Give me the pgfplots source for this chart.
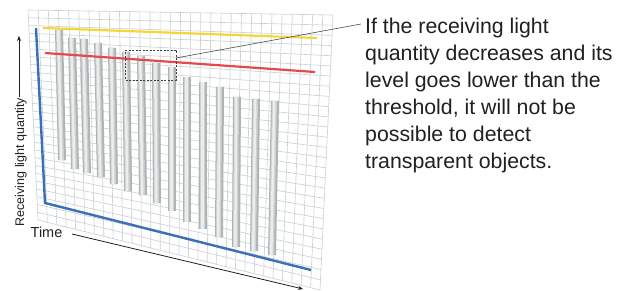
\documentclass[border=0pt]{standalone}
\usepackage{pgfplots}
\pgfplotsset{compat=1.18}
\usepackage{fontspec}
\setmainfont{Liberation Sans}
\usetikzlibrary{arrows.meta}
\definecolor{gridc}{HTML}{CDD1D5}
\definecolor{baro}{HTML}{AEB3B3}
\definecolor{barm}{HTML}{CDD1D1}
\definecolor{bari}{HTML}{EBEDED}
\definecolor{yel}{HTML}{F5D63A}
\definecolor{redl}{HTML}{E8484A}
\definecolor{bluel}{HTML}{3B6FB6}
\definecolor{txt}{HTML}{231F20}
\tikzset{rt/.style={txt,font=\fontsize{21.3}{27}\selectfont,anchor=base west,inner sep=0pt}}
\begin{document}
\begin{tikzpicture}
\begin{axis}[width=617pt,height=291pt,scale only axis,
  xmin=0,xmax=617,ymin=0,ymax=291,y dir=reverse,hide axis,clip=false]
% background
\addplot[draw=none,fill=white] coordinates {(0,0)(617,0)(617,291)(0,291)} -- cycle;
% grid panel (perspective)
\pgfplotsinvokeforeach{0,...,30}{
  \draw[gridc,line width=0.65pt] (axis cs:{28+305*#1/30},{10+5*#1/30}) -- (axis cs:{38+282*#1/30},{220+70*#1/30});
}
\pgfplotsinvokeforeach{0,...,27}{
  \draw[gridc,line width=0.65pt] (axis cs:{28+10*#1/27},{10+210*#1/27}) -- (axis cs:{333-13*#1/27},{15+275*#1/27});
}
% bars (cylinders): outer body
\pgfplotsset{cylo/.style={draw=none,fill=baro},cylm/.style={draw=none,fill=barm},cyli/.style={draw=none,fill=bari}}
\addplot[cylo] coordinates {(55,30)(63,30)(66,160)(58,160)} -- cycle;
\addplot[cylo] coordinates {(68,38)(76,38)(79,169)(71,169)} -- cycle;
\addplot[cylo] coordinates {(80,39)(88,39)(91,173)(83,173)} -- cycle;
\addplot[cylo] coordinates {(94,43)(102,43)(105,177)(97,177)} -- cycle;
\addplot[cylo] coordinates {(108,48)(116,48)(118,184)(110,184)} -- cycle;
\addplot[cylo] coordinates {(122,52)(130,52)(132,191)(124,191)} -- cycle;
\addplot[cylo] coordinates {(137,56)(145,56)(147,195)(139,195)} -- cycle;
\addplot[cylo] coordinates {(152,63)(160,63)(161,203)(153,203)} -- cycle;
\addplot[cylo] coordinates {(168,67)(176,67)(176,211)(168,211)} -- cycle;
\addplot[cylo] coordinates {(183,77)(191,77)(191,222)(183,222)} -- cycle;
\addplot[cylo] coordinates {(199,82)(207,82)(207,229)(199,229)} -- cycle;
\addplot[cylo] coordinates {(216,87)(224,87)(223,237)(215,237)} -- cycle;
\addplot[cylo] coordinates {(233,97)(241,97)(240,247)(232,247)} -- cycle;
\addplot[cylo] coordinates {(252,99)(260,99)(258,251)(250,251)} -- cycle;
\addplot[cylo] coordinates {(271,101)(279,101)(276,255)(268,255)} -- cycle;
% middle tone
\addplot[cylm] coordinates {(56,30)(61,30)(64,160)(59,160)} -- cycle;
\addplot[cylm] coordinates {(69,38)(74,38)(77,169)(72,169)} -- cycle;
\addplot[cylm] coordinates {(81,39)(86,39)(89,173)(84,173)} -- cycle;
\addplot[cylm] coordinates {(95,43)(100,43)(103,177)(98,177)} -- cycle;
\addplot[cylm] coordinates {(109,48)(114,48)(116,184)(111,184)} -- cycle;
\addplot[cylm] coordinates {(123,52)(128,52)(130,191)(125,191)} -- cycle;
\addplot[cylm] coordinates {(138,56)(143,56)(145,195)(140,195)} -- cycle;
\addplot[cylm] coordinates {(153,63)(158,63)(159,203)(154,203)} -- cycle;
\addplot[cylm] coordinates {(169,67)(174,67)(174,211)(169,211)} -- cycle;
\addplot[cylm] coordinates {(184,77)(189,77)(189,222)(184,222)} -- cycle;
\addplot[cylm] coordinates {(200,82)(205,82)(205,229)(200,229)} -- cycle;
\addplot[cylm] coordinates {(217,87)(222,87)(221,237)(216,237)} -- cycle;
\addplot[cylm] coordinates {(234,97)(239,97)(238,247)(233,247)} -- cycle;
\addplot[cylm] coordinates {(253,99)(258,99)(256,251)(251,251)} -- cycle;
\addplot[cylm] coordinates {(272,101)(277,101)(274,255)(269,255)} -- cycle;
% highlight
\addplot[cyli] coordinates {(57,30)(59.5,30)(62.5,160)(60,160)} -- cycle;
\addplot[cyli] coordinates {(70,38)(72.5,38)(75.5,169)(73,169)} -- cycle;
\addplot[cyli] coordinates {(82,39)(84.5,39)(87.5,173)(85,173)} -- cycle;
\addplot[cyli] coordinates {(96,43)(98.5,43)(101.5,177)(99,177)} -- cycle;
\addplot[cyli] coordinates {(110,48)(112.5,48)(114.5,184)(112,184)} -- cycle;
\addplot[cyli] coordinates {(124,52)(126.5,52)(128.5,191)(126,191)} -- cycle;
\addplot[cyli] coordinates {(139,56)(141.5,56)(143.5,195)(141,195)} -- cycle;
\addplot[cyli] coordinates {(154,63)(156.5,63)(157.5,203)(155,203)} -- cycle;
\addplot[cyli] coordinates {(170,67)(172.5,67)(172.5,211)(170,211)} -- cycle;
\addplot[cyli] coordinates {(185,77)(187.5,77)(187.5,222)(185,222)} -- cycle;
\addplot[cyli] coordinates {(201,82)(203.5,82)(203.5,229)(201,229)} -- cycle;
\addplot[cyli] coordinates {(218,87)(220.5,87)(219.5,237)(217,237)} -- cycle;
\addplot[cyli] coordinates {(235,97)(237.5,97)(236.5,247)(234,247)} -- cycle;
\addplot[cyli] coordinates {(254,99)(256.5,99)(254.5,251)(252,251)} -- cycle;
\addplot[cyli] coordinates {(273,101)(275.5,101)(272.5,255)(270,255)} -- cycle;
% threshold lines
\addplot[yel,line width=2.2pt] coordinates {(43,28)(317,38)};
\addplot[redl,line width=2.2pt] coordinates {(45,53)(315,72)};
% axis line
\addplot[bluel,line width=2.4pt,line join=miter] coordinates {(36,28)(45,203)(311,270)};
% dashed box and leader
\addplot[black!75,line width=0.7pt,dash pattern=on 2pt off 1.5pt] coordinates {(125,50)(176,50)(176,80)(125,80)} -- cycle;
\addplot[black!70,line width=0.6pt] coordinates {(176,58)(361,24)};
% axis arrows
\addplot[txt,line width=0.8pt,-{Stealth[length=5pt,width=4pt]}] coordinates {(19,97)(19,36)};
\addplot[txt,line width=0.8pt,-{Stealth[length=5pt,width=4pt]}] coordinates {(72,234)(303,289)};
% labels
\node[txt,rotate=90,font=\fontsize{12.5}{14}\selectfont,anchor=center,inner sep=0pt] at (axis cs:21,162) {Receiving light quantity};
\node[txt,font=\fontsize{14.5}{16}\selectfont,anchor=base west,inner sep=0pt] at (axis cs:30.5,237) {Time};
\node[rt] at (axis cs:365,34) {If the receiving light};
\node[rt] at (axis cs:365,61) {quantity decreases and its};
\node[rt] at (axis cs:365,88) {level goes lower than the};
\node[rt] at (axis cs:365,115) {threshold, it will not be};
\node[rt] at (axis cs:365,142) {possible to detect};
\node[rt] at (axis cs:365,168) {transparent objects.};
\end{axis}
\end{tikzpicture}
\end{document}
